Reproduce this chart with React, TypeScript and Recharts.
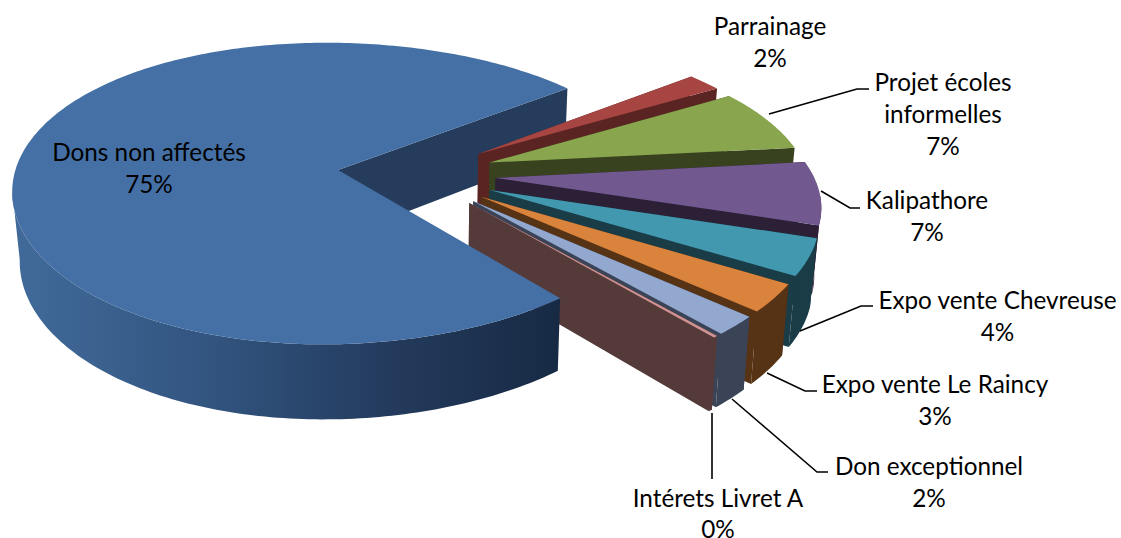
import React from "react";
import { PieChart, Pie } from "recharts";

const categories = ["Dons non affectés", "Parrainage", "Projet écoles informelles", "Kalipathore", "Expo vente Chevreuse", "Expo vente Le Raincy", "Don exceptionnel", "Intérets Livret A"];
const shares = [74.8, 2, 7, 7, 4, 3, 2, 0.2];

const topColors = ["#4570A5", "#A64542", "#89A54E", "#71588F", "#4198AF", "#D9833C", "#92A8CF", "#D19392"];
const wallColors = ["#263C5C", "#5A2422", "#39421F", "#2C2036", "#193C47", "#573316", "#3B4457", "#553A3A"];

const labelLayout = [
  { x: 149, y: [151, 183], lines: ["Dons non affectés"], leader: null },
  { x: 770, y: [25, 57], lines: ["Parrainage"], leader: null },
  { x: 943, y: [81, 113, 145], lines: ["Projet écoles", "informelles"], leader: "769,114 857,89 869,89" },
  { x: 927, y: [199, 231], lines: ["Kalipathore"], leader: "821,191 850,208 860,208" },
  { x: 997.5, y: [299, 331], lines: ["Expo vente Chevreuse"], leader: "800,331 861,306 873,306" },
  { x: 935, y: [383, 415], lines: ["Expo vente Le Raincy"], leader: "767,373 805,391 817,391" },
  { x: 929, y: [465, 497], lines: ["Don exceptionnel"], leader: "732,399 817,472 828,472" },
  { x: 718, y: [497, 528], lines: ["Intérets Livret A"], leader: "712,413 712,479" },
];

const total = shares.reduce((a, b) => a + b, 0);
const START = -51.9;
const chartData = categories.map((name, i) => ({ name, value: shares[i] }));

const TILT = 147 / 322.6;
const PERSP_Y = 0.156;
const PERSP_X = 0.14;
const PERSP_D = 0.1;
const SKEW_X = 0.01;
const SKEW_Y = 0.04;
const SKEW_D = 0.015;
const DEPTH = 67.5;
const EXPLODE = 0.245;
const CONVERGE = 0.018;
const VANISH_X = 430;
const FRONT_FACING = 0.12;
const rad = Math.PI / 180;
const blueMid = START - (360 * shares[0]) / total / 2;
const shiftU = -EXPLODE * Math.cos(blueMid * rad);
const shiftV = EXPLODE * Math.sin(blueMid * rad);

type P = { x: number; y: number };
function geom(props: any) {
  const { cx, cy, outerRadius: r, startAngle, endAngle } = props;
  const mid = (startAngle + endAngle) / 2;
  const du = EXPLODE * Math.cos(mid * rad) + shiftU;
  const dv = -EXPLODE * Math.sin(mid * rad) + shiftV;
  const project = (u: number, v: number, low: boolean): P => {
    let x = cx + (r * u) / (1 - PERSP_X * v + SKEW_X * Math.max(u, 0));
    let y = cy + (r * TILT * v) / (1 - PERSP_Y * v + SKEW_Y * u);
    if (low) {
      y += DEPTH / (1 - PERSP_D * v + SKEW_D * u);
      x = VANISH_X + (x - VANISH_X) * (1 - CONVERGE);
    }
    return { x, y };
  };
  const n = Math.max(2, Math.ceil(Math.abs(endAngle - startAngle)));
  const top: P[] = [];
  const low: P[] = [];
  const frontTop: P[] = [];
  const frontLow: P[] = [];
  for (let i = 0; i <= n; i++) {
    const a = (startAngle + ((endAngle - startAngle) * i) / n) * rad;
    const u = du + Math.cos(a);
    const v = dv - Math.sin(a);
    const t = project(u, v, false);
    const b = project(u, v, true);
    top.push(t);
    low.push(b);
    if (-Math.sin(a) >= FRONT_FACING) {
      frontTop.push(t);
      frontLow.push(b);
    }
  }
  return { apexTop: project(du, dv, false), apexLow: project(du, dv, true), top, low, frontTop, frontLow };
}
const toPath = (pts: P[]) => "M" + pts.map((p) => `${p.x.toFixed(2)},${p.y.toFixed(2)}`).join("L") + "Z";

function BackLayer(props: any) {
  const g = geom(props);
  const i = props.index ?? categories.indexOf(props.name);
  const n = g.top.length - 1;
  const wall = wallColors[i];
  const endWall = toPath([g.apexTop, g.top[n], g.low[n], g.apexLow]);
  if (i === 0) return <path d={endWall} fill={wall} />;
  const startWall = toPath([g.apexTop, g.top[0], g.low[0], g.apexLow]);
  return (
    <g>
      <path d={startWall} fill={wall} />
      {g.frontTop.length > 1 && <path d={toPath([...g.frontTop, ...g.frontLow.slice().reverse()])} fill={wall} />}
      <path d={endWall} fill={wall} />
      <path d={toPath([g.apexTop, ...g.top])} fill={topColors[i]} />
    </g>
  );
}

function FrontLayer(props: any) {
  const i = props.index ?? categories.indexOf(props.name);
  if (i !== 0) return <g />;
  const g = geom(props);
  const outer = toPath([...g.frontTop, ...g.frontLow.slice().reverse()]);
  return (
    <g>
      <defs>
        <linearGradient id="blueWall" gradientUnits="userSpaceOnUse" x1="15" y1="0" x2="560" y2="0">
          <stop offset="0" stopColor="#416A9A" />
          <stop offset="0.35" stopColor="#325580" />
          <stop offset="0.7" stopColor="#233A5C" />
          <stop offset="1" stopColor="#172A44" />
        </linearGradient>
      </defs>
      <path d={outer} fill="url(#blueWall)" />
      <path d={toPath([g.apexTop, ...g.top])} fill={topColors[0]} />
    </g>
  );
}

function renderLabel(props: any) {
  const i = props.index;
  const L = labelLayout[i];
  const pct = Math.round((shares[i] / total) * 100) + "%";
  const rows = [...L.lines, pct];
  return (
    <g key={i}>
      {L.leader && <polyline points={L.leader} fill="none" stroke="#000" strokeWidth={1.6} />}
      {rows.map((t, k) => (
        <text key={k} x={L.x} y={L.y[k]} textAnchor="middle" dominantBaseline="central" fontFamily="Lato" fontSize={24.3} fill="#000">
          {t}
        </text>
      ))}
    </g>
  );
}

export default function App() {
  const common = {
    data: chartData,
    dataKey: "value",
    nameKey: "name",
    cx: 338,
    cy: 170,
    innerRadius: 0,
    outerRadius: 322.6,
    startAngle: START,
    endAngle: START - 360,
    paddingAngle: 0,
    minAngle: 0,
    stroke: "none",
    isAnimationActive: false,
  };
  return (
    <div style={{ position: "absolute", left: 0, top: 0, width: 1121, height: 538, overflow: "hidden" }}>
      <PieChart width={1121} height={538} margin={{ top: 0, right: 0, bottom: 0, left: 0 }}>
        <Pie {...common} shape={BackLayer} label={false} labelLine={false} />
        <Pie {...common} shape={FrontLayer} label={renderLabel} labelLine={false} />
      </PieChart>
    </div>
  );
}
